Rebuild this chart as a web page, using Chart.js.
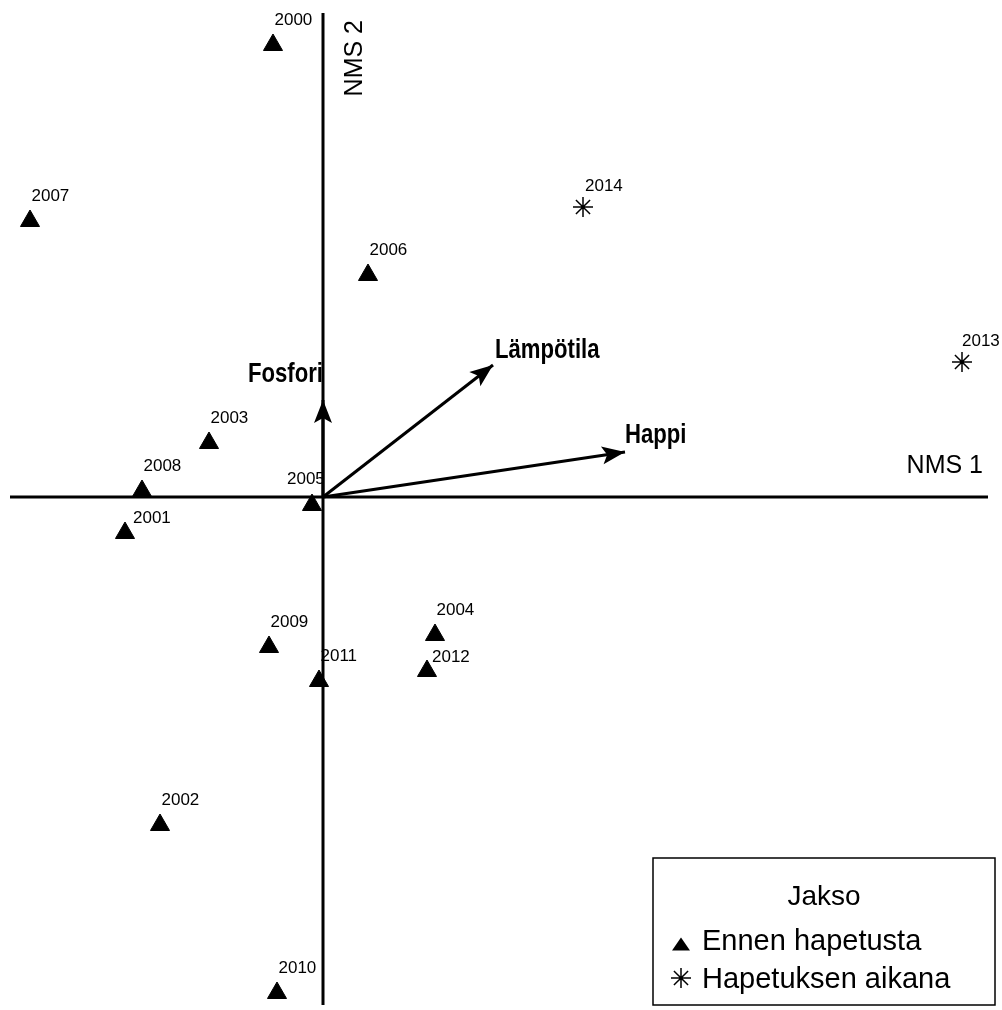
<!DOCTYPE html>
<html>
<head>
<meta charset="utf-8">
<script src="https://cdn.jsdelivr.net/npm/chart.js@4.4.1/dist/chart.umd.min.js"></script>
<style>
  html, body { margin: 0; padding: 0; background: #fff; }
  canvas { display: block; }
</style>
</head>
<body>
<canvas id="nmsChart" width="1002" height="1010"></canvas>
<script>
// NMS ordination scores
const yearsBefore = ['2000', '2007', '2006', '2003', '2008', '2005', '2001', '2009', '2004', '2012', '2011', '2002', '2010'];
const nms1Before = [-0.25, -1.465, 0.225, -0.57, -0.905, -0.055, -0.99, -0.27, 0.56, 0.52, -0.02, -0.815, -0.23];
const nms2Before = [2.26, 1.38, 1.11, 0.27, 0.03, -0.04, -0.18, -0.75, -0.69, -0.87, -0.92, -1.64, -2.48];

const yearsDuring = ['2014', '2013'];
const nms1During = [1.30, 3.195];
const nms2During = [1.45, 0.675];

// environmental vectors (biplot arrows)
const vectorNames = ['Fosfori', 'Lämpötila', 'Happi'];
const vectorNms1 = [0, 0.85, 1.51];
const vectorNms2 = [0.485, 0.66, 0.225];

// extent of the drawn axis lines
const axis1Range = [-1.565, 3.325];
const axis2Range = [-2.54, 2.42];

const groupNames = ['Ennen hapetusta', 'Hapetuksen aikana'];
const legendTitle = 'Jakso';

// label offsets in px (where a label does not sit up-right of its marker)
const yearLabelShift = { '2005': [-25, -26], '2001': [8, -15], '2012': [5, -14], '2014': [2, -21], '2013': [0, -21] };
const vectorLabelShift = { 'Fosfori': [0, -18, 'right'], 'Lämpötila': [2, -7, 'left'], 'Happi': [0, -9, 'left'] };

const FONT = '"Liberation Sans", Arial, sans-serif';

function toPoints(xs, ys) {
  return xs.map((x, i) => ({ x: x, y: ys[i] }));
}

const datasets = [
  {
    label: groupNames[0],
    data: toPoints(nms1Before, nms2Before),
    pointStyle: 'triangle',
    pointRadius: 11,
    backgroundColor: '#000',
    borderColor: '#000',
    borderWidth: 1,
    order: 0
  },
  {
    label: groupNames[1],
    data: toPoints(nms1During, nms2During),
    pointStyle: 'star',
    pointRadius: 10,
    backgroundColor: '#000',
    borderColor: '#000',
    borderWidth: 1.5,
    order: 0
  }
];

vectorNames.forEach((name, i) => {
  datasets.push({
    label: name,
    data: [{ x: 0, y: 0 }, { x: vectorNms1[i], y: vectorNms2[i] }],
    showLine: true,
    borderColor: '#000',
    borderWidth: 3,
    pointRadius: 0,
    isVector: true,
    order: 1
  });
});

datasets.push({
  label: 'NMS 1',
  data: [{ x: axis1Range[0], y: 0 }, { x: axis1Range[1], y: 0 }],
  showLine: true, borderColor: '#000', borderWidth: 3, pointRadius: 0, order: 2
});
datasets.push({
  label: 'NMS 2',
  data: [{ x: 0, y: axis2Range[0] }, { x: 0, y: axis2Range[1] }],
  showLine: true, borderColor: '#000', borderWidth: 3, pointRadius: 0, order: 2
});

function drawTriangle(ctx, cx, cy, w, h) {
  ctx.beginPath();
  ctx.moveTo(cx, cy - h / 2);
  ctx.lineTo(cx + w / 2, cy + h / 2);
  ctx.lineTo(cx - w / 2, cy + h / 2);
  ctx.closePath();
  ctx.fill();
}

function drawStar(ctx, cx, cy, r) {
  ctx.beginPath();
  for (let k = 0; k < 4; k++) {
    const a = k * Math.PI / 4;
    ctx.moveTo(cx - Math.cos(a) * r, cy - Math.sin(a) * r);
    ctx.lineTo(cx + Math.cos(a) * r, cy + Math.sin(a) * r);
  }
  ctx.stroke();
}

const annotate = {
  id: 'annotate',
  afterDatasetsDraw(chart) {
    const ctx = chart.ctx;
    const xs = chart.scales.x, ys = chart.scales.y;
    ctx.save();
    ctx.fillStyle = '#000';
    ctx.strokeStyle = '#000';

    // arrowheads + bold vector names
    chart.data.datasets.forEach((ds, i) => {
      if (!ds.isVector) return;
      const pts = chart.getDatasetMeta(i).data;
      const x0 = pts[0].x, y0 = pts[0].y, x1 = pts[1].x, y1 = pts[1].y;
      const ang = Math.atan2(y1 - y0, x1 - x0);
      const len = 23, half = 9;
      const bx = x1 - Math.cos(ang) * len, by = y1 - Math.sin(ang) * len;
      ctx.beginPath();
      ctx.moveTo(x1, y1);
      ctx.lineTo(bx - Math.sin(ang) * half, by + Math.cos(ang) * half);
      ctx.lineTo(x1 - Math.cos(ang) * (len - 5), y1 - Math.sin(ang) * (len - 5));
      ctx.lineTo(bx + Math.sin(ang) * half, by - Math.cos(ang) * half);
      ctx.closePath();
      ctx.fill();

      const sh = vectorLabelShift[ds.label] || [2, -8, 'left'];
      ctx.save();
      ctx.font = 'bold 27px ' + FONT;
      ctx.textAlign = sh[2];
      ctx.textBaseline = 'alphabetic';
      ctx.translate(x1 + sh[0], y1 + sh[1]);
      ctx.scale(0.82, 1);
      ctx.fillText(ds.label, 0, 0);
      ctx.restore();
    });

    // year labels
    ctx.font = '17px ' + FONT;
    ctx.textAlign = 'left';
    ctx.textBaseline = 'middle';
    [[0, yearsBefore], [1, yearsDuring]].forEach(([di, names]) => {
      chart.getDatasetMeta(di).data.forEach((el, j) => {
        const sh = yearLabelShift[names[j]] || [1.5, -24.5];
        ctx.fillText(names[j], el.x + sh[0], el.y + sh[1]);
      });
    });

    // axis titles
    const ox = xs.getPixelForValue(0), oy = ys.getPixelForValue(0);
    ctx.font = '25px ' + FONT;
    ctx.textAlign = 'right';
    ctx.textBaseline = 'alphabetic';
    ctx.fillText('NMS 1', xs.getPixelForValue(axis1Range[1]) - 5, oy - 24);
    ctx.save();
    ctx.translate(ox + 32, ys.getPixelForValue(axis2Range[1]) + 7);
    ctx.rotate(-Math.PI / 2);
    ctx.textAlign = 'right';
    ctx.textBaseline = 'middle';
    ctx.fillText('NMS 2', 0, 0);
    ctx.restore();

    // legend box
    const L = 653, T = 858, R = 995, B = 1005;
    ctx.lineWidth = 1.5;
    ctx.strokeRect(L, T, R - L, B - T);
    ctx.font = '28px ' + FONT;
    ctx.textAlign = 'center';
    ctx.textBaseline = 'alphabetic';
    ctx.fillText(legendTitle, (L + R) / 2, 905);
    ctx.font = '29px ' + FONT;
    ctx.textAlign = 'left';
    drawTriangle(ctx, 681, 944, 18, 13);
    ctx.fillText(groupNames[0], 702, 950);
    ctx.lineWidth = 1.5;
    drawStar(ctx, 681, 978, 10);
    ctx.fillText(groupNames[1], 702, 988);

    ctx.restore();
  }
};

new Chart(document.getElementById('nmsChart'), {
  type: 'scatter',
  data: { datasets: datasets },
  options: {
    responsive: false,
    animation: false,
    devicePixelRatio: 1,
    layout: { padding: 0, autoPadding: false },
    scales: {
      x: { type: 'linear', min: -1.615, max: 3.395, display: false },
      y: { type: 'linear', min: -2.565, max: 2.485, display: false }
    },
    plugins: {
      legend: { display: false },
      tooltip: { enabled: false }
    }
  },
  plugins: [annotate]
});
</script>
</body>
</html>
